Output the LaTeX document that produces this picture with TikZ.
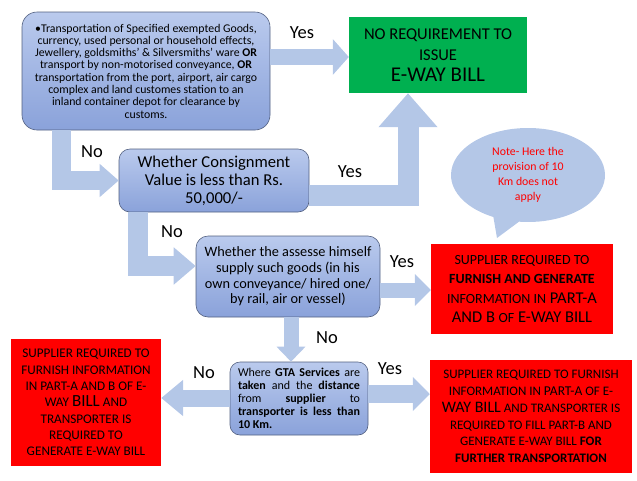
\documentclass[tikz,border=0pt]{standalone}
\usepackage{fontspec}
\setmainfont{Carlito}
\usetikzlibrary{arrows.meta,shapes.callouts}
\definecolor{arrowblue}{RGB}{180,199,231}
\definecolor{boxtop}{RGB}{186,202,237}
\definecolor{boxbot}{RGB}{138,162,218}
\definecolor{boxline}{RGB}{82,96,128}
\definecolor{greenbox}{RGB}{0,176,80}
\definecolor{redbox}{RGB}{255,0,0}
\newcommand{\fsz}[2]{{\fontsize{#1}{#1}\selectfont #2}}
\newcommand{\jline}[1]{\makebox[122pt][s]{#1}}
\tikzset{
	qbox/.style={draw=boxline, line width=0.6pt, rounded corners=11pt, top color=boxtop, bottom color=boxbot, align=center, inner sep=0pt},
	gbox/.style={fill=greenbox, align=center, inner sep=0pt},
	rbox/.style={fill=redbox, align=center, inner sep=0pt},
	barrow/.style n args={3}{draw=arrowblue, line width=#1, line join=miter, -{Triangle[width=#2,length=#3]}},
	lbl/.style={font=\fontsize{18.5}{18.5}\selectfont, inner sep=0pt}
}
\begin{document}
\begin{tikzpicture}[x=1pt,y=-1pt]
\useasboundingbox (0,0) rectangle (637,480);
\node[qbox, rounded corners=15pt, minimum width=248pt, minimum height=118pt, font=\fontsize{11.8}{12.3}\selectfont] (exempt) at (146,71) {•Transportation of Specified exempted Goods,\\currency, used personal or household effects,\\Jewellery, goldsmiths' \& Silversmiths' ware \textbf{OR}\\transport by non-motorised conveyance, \textbf{OR}\\transportation from the port, airport, air cargo\\complex and land customes station to an\\inland container depot for clearance by\\customs.};
\node[gbox, minimum width=178pt, minimum height=76pt, font=\fontsize{16.5}{21}\selectfont] (noreq) at (438,55) {NO REQUIREMENT TO\\ISSUE\\\fsz{21}{E-WAY BILL}};
\node[qbox, minimum width=190pt, minimum height=63pt, font=\fontsize{16.6}{18}\selectfont] (value) at (214,180.5) {Whether Consignment\\Value is less than Rs.\\50,000/-};
\node[ellipse callout, fill=arrowblue, minimum width=154pt, minimum height=94pt, callout absolute pointer={(497,238)}, callout pointer arc=20, text=red, align=center, inner sep=0pt, font=\fontsize{11.8}{15}\selectfont] (note) at (528,175) {Note- Here the\\provision of 10\\Km does not\\apply};
\node[qbox, rounded corners=12pt, minimum width=184pt, minimum height=81pt, font=\fontsize{14.3}{15.7}\selectfont] (himself) at (288,276.5) {Whether the assesse himself\\supply such goods (in his\\own conveyance/ hired one/\\by rail, air or vessel)};
\node[rbox, minimum width=182pt, minimum height=90pt, font=\fontsize{16.5}{19.5}\selectfont] (partab) at (522,289) {\fsz{14}{SUPPLIER REQUIRED TO}\\\fsz{14}{\textbf{FURNISH AND GENERATE}}\\\fsz{14}{INFORMATION IN} PART-A\\AND B \fsz{14}{OF} E-WAY BILL};
\node[qbox, rounded corners=10pt, minimum width=138pt, minimum height=73pt, font=\fontsize{12}{13}\selectfont, align=left] (gta) at (299,398.5) {\jline{Where \textbf{GTA Services} are}\\\jline{\textbf{taken} and the \textbf{distance}}\\\jline{from \textbf{supplier} to}\\\jline{\textbf{transporter is less than}}\\\textbf{10 Km.}};
\node[rbox, minimum width=150pt, minimum height=127pt, font=\fontsize{13.2}{16.3}\selectfont] (transp) at (86,402.5) {SUPPLIER REQUIRED TO\\FURNISH INFORMATION\\IN PART-A AND B OF E-\\WAY \fsz{17}{BILL} AND\\TRANSPORTER IS\\REQUIRED TO\\GENERATE E-WAY BILL};
\node[rbox, minimum width=202pt, minimum height=113pt, font=\fontsize{13}{16.8}\selectfont] (parta) at (531,416.5) {SUPPLIER REQUIRED TO FURNISH\\INFORMATION IN \fsz{13.5}{PART-A} OF E-\\\fsz{16}{WAY BILL} AND TRANSPORTER IS\\REQUIRED TO FILL PART-B AND\\GENERATE E-WAY BILL \textbf{FOR}\\\textbf{FURTHER TRANSPORTATION}};
\draw[barrow={16pt}{35pt}{16pt}] (exempt.east |- 0,57) -- (noreq.west |- 0,57);
\draw[barrow={19pt}{32pt}{19pt}] (exempt.south -| 61,0) |- (value.west);
\draw[barrow={21pt}{57pt}{34pt}] (value.east |- 0,195) -| (noreq.south -| 408,0);
\draw[barrow={20pt}{36pt}{22pt}] (value.south -| 138,0) |- (himself.west |- 0,266);
\draw[barrow={15pt}{31pt}{16pt}] (himself.east |- 0,290) -- (partab.west |- 0,290);
\draw[barrow={15pt}{28pt}{15pt}] (himself.south -| 291,0) -- (gta.north -| 291,0);
\draw[barrow={17pt}{35pt}{22pt}] (gta.west |- 0,398) -- (transp.east |- 0,398);
\draw[barrow={18pt}{33pt}{17pt}] (gta.east |- 0,394) -- (parta.west |- 0,394);
\node[lbl] (yes1) at (302,33) {Yes};
\node[lbl] (no1) at (92,152) {No};
\node[lbl] (yes2) at (350,172) {Yes};
\node[lbl] (no2) at (172,232) {No};
\node[lbl] (yes3) at (402,262) {Yes};
\node[lbl] (no3) at (327,338) {No};
\node[lbl] (no4) at (204,373) {No};
\node[lbl] (yes4) at (390,369) {Yes};
\end{tikzpicture}
\end{document}
